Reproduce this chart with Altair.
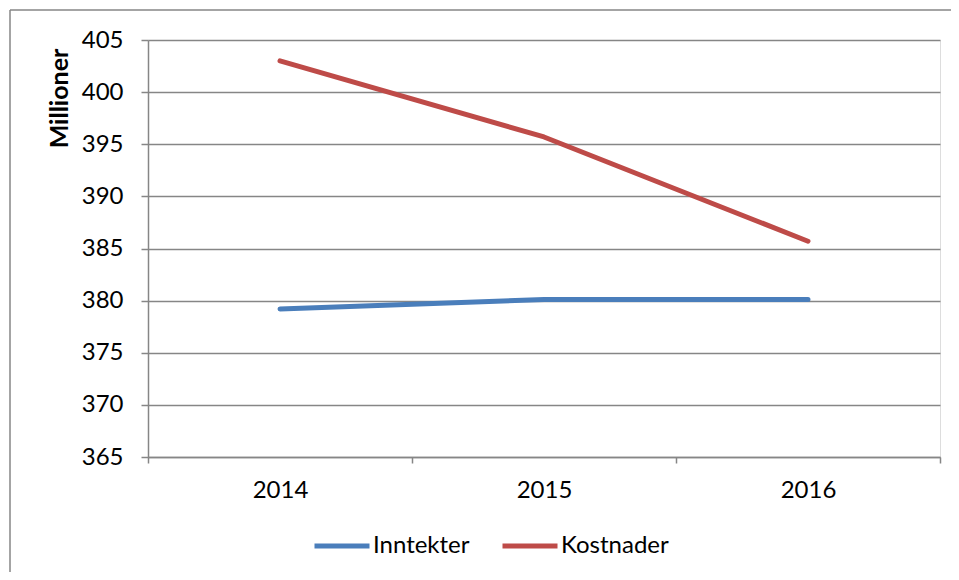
import altair as alt
import pandas as pd

years = ["2014", "2015", "2016"]
inntekter = [379.2, 380.1, 380.1]
kostnader = [403.0, 395.7, 385.7]
series = ["Inntekter", "Kostnader"]
colors = ["#4A7EBB", "#BE4B48"]
y_ticks = [365, 370, 375, 380, 385, 390, 395, 400, 405]

rows = []
for name, vals in zip(series, [inntekter, kostnader]):
    for yr, v in zip(years, vals):
        rows.append({"year": yr, "serie": name, "value": v})
df = pd.DataFrame(rows)

W, H = 792, 417
FONT = "Lato"
GRID = "#868686"
FS = 24

lines = alt.Chart(df).mark_line(strokeWidth=5, strokeCap="round", strokeJoin="round").encode(
    x=alt.X(
        "year:O",
        bandPosition=0.5,
        scale=alt.Scale(type="band", paddingInner=0, paddingOuter=0),
        axis=alt.Axis(
            title=None, tickBand="extent", labelAngle=0, labelFont=FONT, labelFontSize=FS,
            labelColor="#000000", tickSize=6, tickColor=GRID, tickWidth=1.5,
            domainColor=GRID, domainWidth=1.5, labelPadding=15, grid=False,
        ),
    ),
    y=alt.Y(
        "value:Q",
        scale=alt.Scale(domain=[365, 405], nice=False, zero=False),
        axis=alt.Axis(
            values=y_ticks, title="Millioner", titleFont=FONT, titleFontSize=25,
            titleFontWeight="bold", titleColor="#000000", titleX=-76, titleY=58,
            titleAlign="center", titleAngle=-90, titleBaseline="bottom",
            labelFont=FONT, labelFontSize=FS, labelColor="#000000", labelPadding=18,
            tickSize=7, tickColor=GRID, tickWidth=1.5, domainColor=GRID, domainWidth=1.5,
            grid=True, gridColor=GRID, gridWidth=1.5,
        ),
    ),
    color=alt.Color(
        "serie:N",
        scale=alt.Scale(domain=series, range=colors),
        legend=alt.Legend(
            title=None, orient="none", direction="horizontal", legendX=164, legendY=476,
            symbolType="stroke", symbolSize=3025, symbolStrokeWidth=5,
            labelFont=FONT, labelFontSize=FS, labelColor="#000000", labelOffset=1,
            columnPadding=22, labelLimit=300,
        ),
    ),
)

frame_df = pd.DataFrame({"k": [0]})
left_border = alt.Chart(frame_df).mark_rule(color=GRID, strokeWidth=1.5).encode(
    x=alt.value(-138), y=alt.value(-30), y2=alt.value(H + 130)
)
top_border = alt.Chart(frame_df).mark_rule(color=GRID, strokeWidth=1.5).encode(
    x=alt.value(-138), x2=alt.value(W + 20), y=alt.value(-30)
)

chart = alt.layer(left_border, top_border, lines).properties(
    width=W, height=H,
    autosize=alt.AutoSizeParams(type="none"),
    padding={"left": 140, "top": 32, "right": 11, "bottom": 115},
).configure_view(stroke=None).configure(background="#ffffff")

chart.save("out.html", embed_options={"renderer": "svg", "actions": False})
